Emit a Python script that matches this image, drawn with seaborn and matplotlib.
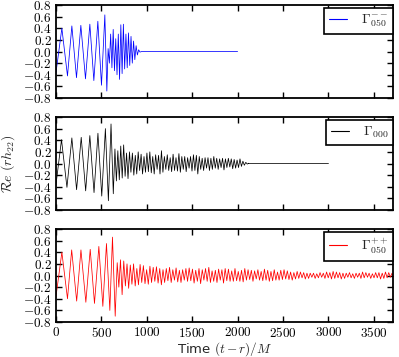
import numpy as np
import matplotlib
matplotlib.use("Agg")
import matplotlib.pyplot as plt
import seaborn as sns
from matplotlib.ticker import FuncFormatter

# ---------------- data (extrema) ----------------
labels = [r"$\Gamma_{050}^{--}$", r"$\Gamma_{000}$", r"$\Gamma_{050}^{++}$"]
colors = ["#0000ff", "#000000", "#ff0000"]

# blue: inspiral extrema
blue_insp_t = [0, 66, 128, 176, 227, 275, 326, 374, 418, 462, 502, 539, 561]
blue_insp_v = [-0.38, 0.40, -0.42, 0.44, -0.45, 0.45, -0.47, 0.47, -0.50, 0.52, -0.58, 0.63, -0.68]
# blue: merger / ringdown extrema
blue_ring_t = [575, 589, 603, 617, 631, 645, 659, 673, 687, 701, 715, 729, 743,
               757, 771, 785, 799, 813, 827, 841, 855, 869, 883, 897, 911, 925]
blue_ring_v = [0.05, -0.20, 0.30, -0.28, 0.38, -0.33, 0.22, -0.40, 0.30, -0.48, 0.46, -0.38, 0.47,
               -0.30, 0.30, -0.28, 0.32, -0.24, 0.26, -0.20, 0.18, -0.14, 0.10, -0.06, 0.03, -0.01]
blue_tail_t = [945, 2000]
blue_tail_v = [0.0, 0.0]

# black: inspiral extrema
black_insp_t = [0, 62, 122, 176, 228, 279, 328, 374, 420, 463, 505, 545, 578, 607, 632]
black_insp_v = [-0.38, 0.41, -0.41, 0.44, -0.45, 0.45, -0.47, 0.48, -0.50, 0.52, -0.56, 0.60, -0.64, 0.68, -0.52]
# black: ringdown extrema, one every 16 M from t = 650
black_ring_start, black_ring_step = 650, 16
black_ring_v = [0.25, -0.30, 0.22, -0.28, 0.30, -0.25, 0.32, -0.22, 0.18, -0.26,
                0.20, -0.15, 0.18, -0.20, 0.14, -0.18, 0.20, -0.12, 0.16, -0.18, 0.12, -0.15, 0.18,
                -0.14, 0.20, -0.16, 0.12, -0.18, 0.15, -0.10, 0.14, -0.18, 0.22, -0.15, 0.12, -0.10, 0.15, -0.12, 0.10,
                -0.14, 0.16, -0.12, 0.10, -0.13, 0.17, -0.15, 0.12, -0.10, 0.12, -0.14, 0.10, -0.08, 0.12, -0.13, 0.15,
                -0.12, 0.14, -0.18, 0.12, -0.10, 0.09, -0.12, 0.10, -0.08, 0.10, -0.12, 0.09, -0.10, 0.12, -0.08, 0.09,
                -0.10, 0.08, -0.07, 0.09, -0.11, 0.08, -0.07, 0.09, -0.06, 0.08, -0.09, 0.07, -0.08, 0.06, -0.07, 0.08,
                -0.05, 0.04, -0.03, 0.02, -0.01, 0.005]
black_tail_t = [2120, 3000]
black_tail_v = [0.0, 0.0]

# red: inspiral extrema
red_insp_t = [0, 66, 128, 174, 229, 276, 330, 378, 425, 473, 517, 557, 594, 623, 653]
red_insp_v = [-0.38, 0.40, -0.40, 0.44, -0.44, 0.44, -0.46, 0.45, -0.48, 0.50, -0.53, 0.55, -0.60, 0.66, -0.70]
# red: ringdown extrema, one every 18 M from t = 675
red_ring_start, red_ring_step = 675, 18
red_ring_v = [0.22, -0.20, 0.27, -0.33, 0.25, -0.18, 0.20, -0.22, 0.18, -0.15,
              0.20, -0.18, 0.12, -0.16, 0.19, -0.12, 0.17, -0.14, 0.10, -0.15,
              0.16, -0.12, 0.14, -0.10, 0.15, -0.13, 0.12, -0.16, 0.10, -0.12,
              0.12, -0.09, 0.14, -0.12, 0.10, -0.08, 0.13, -0.11, 0.09, -0.12,
              0.10, -0.08, 0.12, -0.10, 0.13, -0.09, 0.11, -0.13, 0.09, -0.10,
              0.12, -0.14, 0.10, -0.08, 0.12, -0.10, 0.14, -0.12, 0.08, -0.10,
              0.09, -0.12, 0.11, -0.08, 0.10, -0.13, 0.12, -0.09, 0.11, -0.10,
              0.08, -0.10, 0.12, -0.09, 0.07, -0.10, 0.09, -0.11, 0.12, -0.08,
              0.10, -0.07, 0.09, -0.10, 0.08, -0.06, 0.10, -0.08, 0.07, -0.09,
              0.11, -0.08, 0.09, -0.10, 0.07, -0.09, 0.10, -0.08, 0.06, -0.08,
              0.09, -0.07, 0.10, -0.06, 0.08, -0.07, 0.06, -0.08, 0.05, -0.06,
              0.07, -0.05, 0.06, -0.04, 0.05, -0.06, 0.04, -0.05, 0.04, -0.03,
              0.04, -0.05, 0.03, -0.04, 0.05, -0.03, 0.04, -0.05, 0.06, -0.04,
              0.05, -0.06, 0.07, -0.05, 0.06, -0.04, 0.05, -0.06, 0.04, -0.05,
              0.04, -0.03, 0.05, -0.04, 0.03, -0.05, 0.04, -0.03, 0.04, -0.05,
              0.06, -0.04, 0.05, -0.03, 0.04, -0.05, 0.03, -0.04, 0.05, -0.04,
              0.05, -0.06, 0.04, -0.05, 0.06, -0.04, 0.05, -0.03, 0.04, -0.05]

y_ticks = [-0.8, -0.6, -0.4, -0.2, 0.0, 0.2, 0.4, 0.6, 0.8]
x_ticks = [0, 500, 1000, 1500, 2000, 2500, 3000, 3500]


def build(insp_t, insp_v, ring_t, ring_v, tail_t, tail_v):
    t = np.concatenate([insp_t, ring_t, tail_t]).astype(float)
    v = np.concatenate([insp_v, ring_v, tail_v]).astype(float)
    return t, v


black_ring_t = black_ring_start + black_ring_step * np.arange(len(black_ring_v))
red_ring_t = red_ring_start + red_ring_step * np.arange(len(red_ring_v))

series = [
    build(blue_insp_t, blue_insp_v, blue_ring_t, blue_ring_v, blue_tail_t, blue_tail_v),
    build(black_insp_t, black_insp_v, black_ring_t, black_ring_v, black_tail_t, black_tail_v),
    build(red_insp_t, red_insp_v, red_ring_t, red_ring_v, [], []),
]

# ---------------- plotting ----------------
sns.set_style("ticks")
plt.rcParams["font.family"] = ["DejaVu Sans"]
plt.rcParams["mathtext.fontset"] = "cm"

fig, axes = plt.subplots(3, 1, figsize=(3.99, 3.57), dpi=100, sharex=True)
fig.subplots_adjust(left=0.140, right=0.985, top=0.986, bottom=0.098, hspace=0.204)

fmt_y = FuncFormatter(lambda v, p: f"${v:.1f}$")
fmt_x = FuncFormatter(lambda v, p: f"${int(round(v))}$")

for ax, (t, v), lab, col in zip(axes, series, labels, colors):
    sns.lineplot(x=t, y=v, ax=ax, color=col, lw=0.55, estimator=None, sort=False, label=lab)
    ax.set_xlim(0, 3710)
    ax.set_ylim(-0.8, 0.8)
    ax.set_yticks(y_ticks)
    ax.set_xticks(x_ticks)
    ax.yaxis.set_major_formatter(fmt_y)
    ax.xaxis.set_major_formatter(fmt_x)
    ax.tick_params(direction="in", top=True, right=True, length=4, width=1,
                   labelsize=9.5, pad=3, colors="black")
    for s in ax.spines.values():
        s.set_linewidth(1.3)
        s.set_color("black")
    ax.set_ylabel("")
    ax.set_xlabel("")
    leg = ax.legend(loc="upper right", bbox_to_anchor=(1.0, 0.968), borderaxespad=0.0,
                    frameon=True, fancybox=False, framealpha=1, edgecolor="black",
                    handlelength=1.3, fontsize=10, borderpad=0.35, handletextpad=1.0)
    leg.get_frame().set_linewidth(1.2)
    for h in leg.get_lines():
        h.set_color(col)
        h.set_linewidth(0.8)

axes[2].set_xlabel(r"Time $(t-r)/M$", fontsize=9.5, labelpad=0)
fig.text(0.021, 0.542, r"$\mathcal{R}e\ (rh_{22})$", rotation=90, va="center", ha="center", fontsize=10)

fig.savefig("out.png", dpi=100)
